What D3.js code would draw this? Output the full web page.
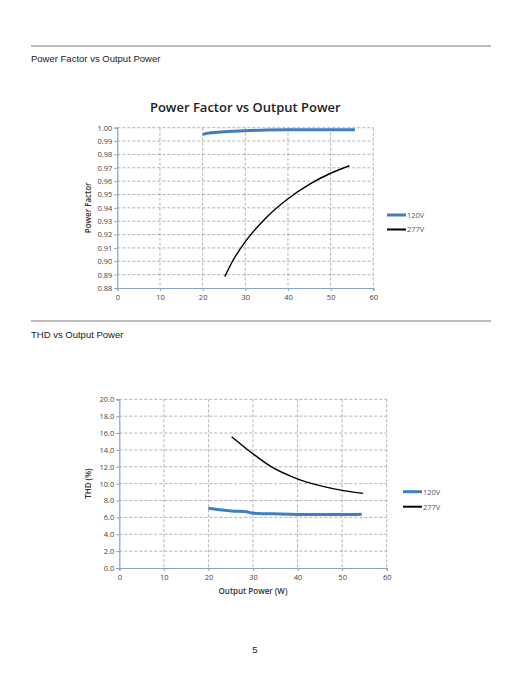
<!DOCTYPE html>
<html lang="en">
<head>
  <meta charset="UTF-8">
  <title>Power Factor / THD vs Output Power</title>
  <script src="https://d3js.org/d3.v7.min.js"></script>
  <style>
    body { margin: 0; background: #fff; }
    .hdr { font-family: "Liberation Sans", Arial, sans-serif; font-size: 9.5px; fill: #222; }
    .tick text { font-family: "Open Sans", sans-serif; font-size: 7.5px; fill: #444; }
    .axis-title { font-family: "Open Sans", sans-serif; font-size: 8px; font-weight: 600; fill: #333; }
    .legend text { font-family: "Open Sans", sans-serif; font-size: 7.5px; fill: #555; }
  </style>
</head>
<body>
<svg width="522" height="676"></svg>

<script>
  // 시리즈 데이터 (출력 W, 값)
  const series = ["120V", "277V"];
  const colors = ["#3f7fbf", "#000000"];

  const pf120x = [20.0, 22, 25, 30, 35, 40, 45, 50, 55.7];
  const pf120y = [0.9950, 0.9962, 0.9970, 0.9978, 0.9982, 0.9984, 0.9985, 0.9985, 0.9985];
  const pf277x = [25.2, 27, 30, 35, 40, 45, 50, 54.4];
  const pf277y = [0.8885, 0.9000, 0.9147, 0.9330, 0.9468, 0.9576, 0.9659, 0.9715];

  const thd120x = [20.0, 25.2, 28.6, 29.7, 36, 43.5, 50, 54.4];
  const thd120y = [7.08, 6.76, 6.68, 6.52, 6.40, 6.33, 6.33, 6.37];
  const thd277x = [25.2, 30.1, 33.8, 39.8, 45, 50.3, 54.7];
  const thd277y = [15.57, 13.5, 12.1, 10.6, 9.76, 9.17, 8.85];

  const xTicks = [0, 10, 20, 30, 40, 50, 60];
  const pfTicks = d3.range(0, 13).map(i => +(0.88 + i * 0.01).toFixed(2));
  const thdTicks = d3.range(0, 11).map(i => i * 2);

  const svg = d3.select("svg");

  // 페이지 헤더
  [[46, 59, "Power Factor vs Output Power"], [321, 335, "THD vs Output Power"]].forEach(([ly, ty, t]) => {
    svg.append("line").attr("x1", 31).attr("x2", 491).attr("y1", ly).attr("y2", ly)
      .attr("stroke", "#555").attr("stroke-width", 0.8);
    svg.append("text").attr("class", "hdr").attr("x", 31).attr("y", ty + 3).text(t);
  });

  svg.append("text").attr("class", "hdr").attr("x", 255).attr("y", 653)
    .attr("text-anchor", "middle").attr("fill", "#555").text("5");

  function chart(o) {
    const x = d3.scaleLinear().domain([0, 60]).range([o.left, o.right]);
    const y = d3.scaleLinear().domain(o.ydomain).range([o.bottom, o.top]);
    const g = svg.append("g");

    // 격자
    g.append("g").selectAll("line").data(o.yticks.slice(1)).join("line")
      .attr("x1", o.left).attr("x2", o.right)
      .attr("y1", d => y(d)).attr("y2", d => y(d))
      .attr("stroke", "#7f7f7f").attr("stroke-width", 0.6).attr("stroke-dasharray", "3,2");
    g.append("g").selectAll("line").data(xTicks.slice(1)).join("line")
      .attr("y1", o.top).attr("y2", o.bottom)
      .attr("x1", d => x(d)).attr("x2", d => x(d))
      .attr("stroke", "#7f7f7f").attr("stroke-width", 0.6).attr("stroke-dasharray", "3,2");

    // 축
    const xa = g.append("g").attr("transform", `translate(0,${o.bottom})`)
      .call(d3.axisBottom(x).tickValues(xTicks).tickSize(3).tickPadding(4));
    const ya = g.append("g").attr("transform", `translate(${o.left},0)`)
      .call(d3.axisLeft(y).tickValues(o.yticks).tickFormat(o.fmt).tickSize(3).tickPadding(2));
    [xa, ya].forEach(a => {
      a.select(".domain").attr("stroke", "#86a3c4").attr("stroke-width", 1.2);
      a.selectAll(".tick line").attr("stroke", "#86a3c4");
    });

    // 시리즈
    const line = d3.line().x(d => x(d[0])).y(d => y(d[1])).curve(d3.curveMonotoneX);
    o.data.forEach((d, i) => {
      g.append("path").datum(d3.zip(d[0], d[1]))
        .attr("fill", "none").attr("stroke", colors[i])
        .attr("stroke-width", i === 0 ? 3 : 1.4).attr("d", line);
    });

    // 제목
    if (o.title) {
      g.append("text").attr("x", (o.left + o.right) / 2).attr("y", o.top - 16)
        .attr("text-anchor", "middle").attr("font-family", "Open Sans, sans-serif")
        .attr("font-size", 13).attr("font-weight", 600).attr("fill", "#222").text(o.title);
    }
    g.append("text").attr("class", "axis-title")
      .attr("transform", `translate(${o.ylabelX},${(o.top + o.bottom) / 2}) rotate(-90)`)
      .attr("text-anchor", "middle").text(o.ylabel);
    if (o.xlabel) {
      g.append("text").attr("class", "axis-title").attr("x", (o.left + o.right) / 2)
        .attr("y", o.bottom + 26).attr("text-anchor", "middle").text(o.xlabel);
    }

    // 범례
    const lg = g.append("g").attr("class", "legend");
    series.forEach((s, i) => {
      const ly = o.legY + i * o.legGap;
      lg.append("line").attr("x1", o.legX).attr("x2", o.legX + 19).attr("y1", ly).attr("y2", ly)
        .attr("stroke", colors[i]).attr("stroke-width", i === 0 ? 3 : 2);
      lg.append("text").attr("x", o.legX + 20).attr("y", ly + 2.8).text(s);
    });
  }

  chart({
    left: 117.3, right: 373.3, top: 127.7, bottom: 288,
    ydomain: [0.88, 1.00], yticks: pfTicks, fmt: d3.format(".2f"),
    data: [[pf120x, pf120y], [pf277x, pf277y]],
    title: "Power Factor vs Output Power", ylabel: "Power Factor", ylabelX: 91,
    legX: 387, legY: 215, legGap: 14.5
  });

  chart({
    left: 119.3, right: 386.7, top: 399.3, bottom: 568,
    ydomain: [0, 20], yticks: thdTicks, fmt: d3.format(".1f"),
    data: [[thd120x, thd120y], [thd277x, thd277y]],
    ylabel: "THD (%)", ylabelX: 91, xlabel: "Output Power (W)",
    legX: 403, legY: 491.7, legGap: 15
  });
</script>
</body>
</html>
